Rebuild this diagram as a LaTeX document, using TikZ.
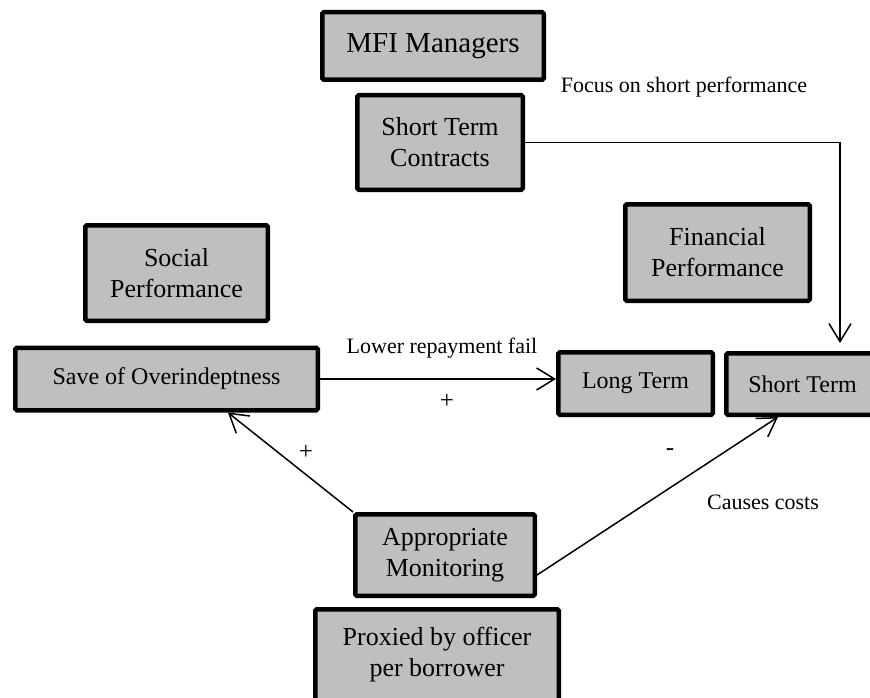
\documentclass[tikz,border=0pt]{standalone}
\usepackage{fontspec}
\setmainfont{Liberation Serif}
\usetikzlibrary{arrows.meta,positioning,calc}

\begin{document}
\begin{tikzpicture}[
                    x=1pt, y=-1pt,
                    greybox/.style={draw, line width=4.5pt, fill=black!25, rounded corners=1.5pt, align=center, inner sep=0pt, font=\fontsize{26}{31}\selectfont},
                    smallbox/.style={greybox, font=\fontsize{24}{28}\selectfont},
                    linelabel/.style={font=\fontsize{22}{26}\selectfont},
                    signlabel/.style={font=\fontsize{25}{28}\selectfont},
                    link/.style={line width=1.5pt, -{Straight Barb[length=18pt,width=22pt]}}
                ]
                    \useasboundingbox (0,0) rectangle (870,698);
                    \clip (0,0) rectangle (870,698);
                    \node[greybox, minimum width=221.5pt, minimum height=67.5pt, font=\fontsize{29}{34}\selectfont] (mfi) at (433,46) {MFI Managers};
                    \node[greybox, minimum width=165.5pt, minimum height=94.5pt] (stc) at (440,142.5) {Short Term\\Contracts};
                    \node[greybox, minimum width=182.5pt, minimum height=95.5pt] (social) at (176.5,273) {Social\\Performance};
                    \node[greybox, minimum width=184.5pt, minimum height=96.5pt] (fin) at (717.5,252.5) {Financial\\Performance};
                    
                    \node[smallbox, minimum width=302.5pt, minimum height=62.5pt] (save) at (166.5,379) {Save of Overindeptness};
                    \node[smallbox, minimum width=154.5pt, minimum height=62.5pt] (long) at (635.5,383.5) {Long Term};
                    \node[smallbox, minimum width=152.5pt, minimum height=61.5pt] (short) at (802.5,384) {Short Term};
                    
                    \node[greybox, minimum width=179.5pt, minimum height=81.5pt] (monitor) at (445,555) {Appropriate\\Monitoring};
                    \node[greybox, minimum width=243.5pt, minimum height=91.5pt] (proxy) at (437,655) {Proxied by officer\\per borrower};
                    
                    \node[linelabel] (focus) at (684,87) {Focus on short performance};
                    \node[linelabel] (repay) at (442,348) {Lower repayment fail};
                    \node[linelabel] (costs) at (763,502) {Causes costs};
                    \node[signlabel] (plusa) at (447,401) {+};
                    \node[signlabel] (plusb) at (306,452) {+};
                    \node[signlabel] (minus) at (670,452) {-};
                    
                    \coordinate (turn) at (840,142.5);
                    \draw[link, shorten >=8pt] (stc.east) -- (turn) -- (turn |- short.north);
                    \draw[link] (save.east) -- (save.east -| long.west);
                    \draw[link] (monitor.north west) -- ($(save.south west)!0.7!(save.south east)$);
                    \draw[link] ([yshift=-20pt]monitor.east) -- ([xshift=54pt]short.south west);
                \end{tikzpicture}
\end{document}
